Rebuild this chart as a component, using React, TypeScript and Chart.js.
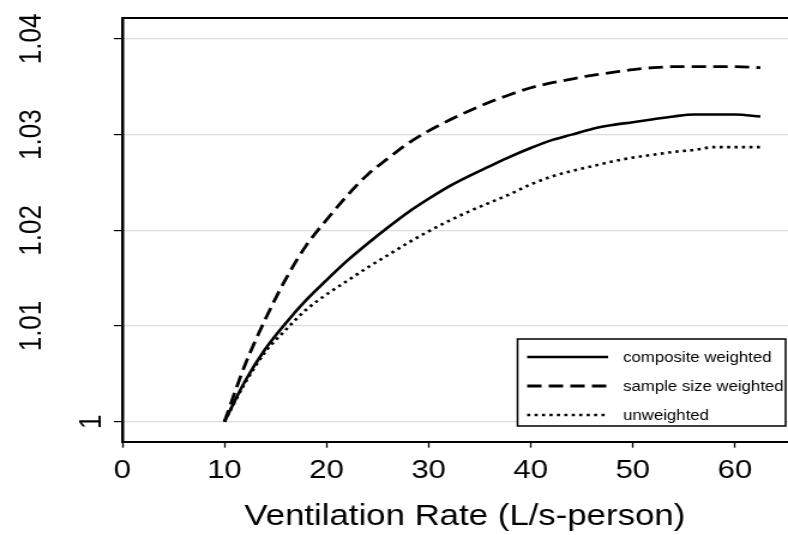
import { useEffect, useRef } from 'react';
import { Chart, registerables } from 'chart.js';

Chart.register(...registerables);

// ---- data ----
const ventilationRate = [10, 12, 14, 16, 18, 20, 22, 24, 26, 28, 30, 32, 34, 36, 38, 40, 42, 44, 46, 48, 50, 52, 54, 56, 58, 60, 62.5];
const compositeWeighted = [1.0, 1.0042, 1.0076, 1.0103, 1.0127, 1.0148, 1.0168, 1.0186, 1.0203, 1.0219, 1.0233, 1.0246, 1.0257, 1.0267, 1.0277, 1.0286, 1.0294, 1.03, 1.0306, 1.031, 1.0313, 1.0316, 1.0319, 1.0321, 1.0321, 1.0321, 1.0319];
const sampleSizeWeighted = [1.0, 1.0059, 1.0107, 1.0149, 1.0184, 1.0211, 1.0236, 1.0258, 1.0275, 1.0291, 1.0304, 1.0315, 1.0325, 1.0334, 1.0342, 1.0349, 1.0354, 1.0358, 1.0362, 1.0365, 1.0368, 1.037, 1.0371, 1.0371, 1.0371, 1.0371, 1.037];
const unweighted = [1.0, 1.004, 1.0073, 1.0096, 1.0117, 1.0133, 1.0147, 1.0161, 1.0174, 1.0187, 1.0199, 1.021, 1.022, 1.0229, 1.0238, 1.0248, 1.0256, 1.0262, 1.0267, 1.0272, 1.0276, 1.0279, 1.0282, 1.0284, 1.0287, 1.0287, 1.0287];
const seriesLabels = ['composite weighted', 'sample size weighted', 'unweighted'];
const xTicks = [0, 10, 20, 30, 40, 50, 60];
const yTicks = [1, 1.01, 1.02, 1.03, 1.04];
const xTitle = 'Ventilation Rate (L/s-person)';

const X_MIN = 0;
const X_MAX = 65.2;
const Y_MIN = 0.99791;
const Y_MAX = 1.04219;

// ---- layout ----
const W = 788;
const H = 535;
const STRETCH = 1.2;
const CW = Math.round(W / STRETCH);
const FONT = '"Liberation Sans", Arial, Helvetica, sans-serif';

const toPoints = (ys: number[]) => ventilationRate.map((x, i) => ({ x, y: ys[i] }));

const frameLegendPlugin = {
  id: 'frameLegend',
  afterDraw(chart: any) {
    const { ctx, chartArea } = chart;
    ctx.save();
    // top frame line
    ctx.strokeStyle = '#000';
    ctx.lineWidth = 2;
    ctx.beginPath();
    ctx.moveTo(chartArea.left, chartArea.top);
    ctx.lineTo(chartArea.right + 2, chartArea.top);
    ctx.stroke();

    // legend box
    const bx = 431.5, by = 339, bw = 655 - 431.5, bh = 426 - 339;
    ctx.fillStyle = '#fff';
    ctx.fillRect(bx, by, bw, bh);
    ctx.lineWidth = 1.5;
    ctx.strokeRect(bx, by, bw, bh);
    const rows = [357, 386, 415];
    chart.data.datasets.forEach((ds: any, i: number) => {
      const y = rows[i];
      ctx.setLineDash(ds.borderDash || []);
      ctx.lineWidth = ds.borderWidth;
      ctx.strokeStyle = ds.borderColor;
      ctx.beginPath();
      ctx.moveTo(439.5, y);
      ctx.lineTo(507, y);
      ctx.stroke();
      ctx.setLineDash([]);
      ctx.fillStyle = '#000';
      ctx.font = `14px ${FONT}`;
      ctx.textBaseline = 'middle';
      ctx.textAlign = 'left';
      ctx.fillText(ds.label, 519.5, y + 1);
    });
    ctx.restore();
  },
};

export default function App() {
  const ref = useRef<HTMLCanvasElement>(null);

  useEffect(() => {
    const canvas = ref.current;
    if (!canvas) return;
    const chart = new Chart(canvas, {
      type: 'line',
      data: {
        datasets: [
          {
            label: seriesLabels[0],
            data: toPoints(compositeWeighted),
            borderColor: '#000',
            borderWidth: 2.6,
            pointRadius: 0,
            fill: false,
            cubicInterpolationMode: 'monotone',
          },
          {
            label: seriesLabels[1],
            data: toPoints(sampleSizeWeighted),
            borderColor: '#000',
            borderWidth: 2.8,
            borderDash: [12, 6],
            pointRadius: 0,
            fill: false,
            cubicInterpolationMode: 'monotone',
          },
          {
            label: seriesLabels[2],
            data: toPoints(unweighted),
            borderColor: '#000',
            borderWidth: 2.6,
            borderDash: [2.6, 3.6],
            pointRadius: 0,
            fill: false,
            cubicInterpolationMode: 'monotone',
          },
        ],
      },
      options: {
        responsive: false,
        devicePixelRatio: 1,
        animation: false,
        events: [],
        layout: { padding: { top: 18, right: 0, bottom: 0, left: 0 } },
        plugins: {
          legend: { display: false },
          tooltip: { enabled: false },
        },
        scales: {
          x: {
            type: 'linear',
            min: X_MIN,
            max: X_MAX,
            afterFit: (s: any) => {
              s.height = H - 441.7;
              s.paddingLeft = 0;
              s.paddingRight = 0;
            },
            afterBuildTicks: (s: any) => {
              s.ticks = xTicks.map((v) => ({ value: v }));
            },
            ticks: {
              color: '#000',
              padding: 8,
              maxRotation: 0,
              autoSkip: false,
              font: { family: FONT, size: 26 },
              callback: (v: any) => String(v),
            },
            grid: {
              display: true,
              drawOnChartArea: false,
              drawTicks: true,
              tickLength: 6,
              tickColor: '#000',
              tickWidth: 1.3,
            },
            border: { display: true, color: '#000', width: 2 },
            title: {
              display: true,
              text: '  ' + xTitle,
              color: '#000',
              font: { family: FONT, size: 29 },
              padding: { top: 0, bottom: 1 },
            },
          },
          y: {
            type: 'linear',
            min: Y_MIN,
            max: Y_MAX,
            afterFit: (s: any) => {
              s.width = 102;
              s.paddingTop = 0;
              s.paddingBottom = 0;
            },
            afterBuildTicks: (s: any) => {
              s.ticks = yTicks.map((v) => ({ value: v }));
            },
            ticks: {
              color: '#000',
              padding: 43,
              minRotation: 90,
              maxRotation: 90,
              crossAlign: 'center',
              autoSkip: false,
              font: (c: any) => ({
                family: FONT,
                size: 26,
                lineHeight: c.tick && Math.abs(c.tick.value - 1) < 1e-9 ? 1.29 : 1.2,
              }),
              callback: (v: any) => {
                const n = Number(v);
                if (Math.abs(n - 1) < 1e-9) return ['', '', '', '1'];
                return String(Number(n.toFixed(2)));
              },
            },
            grid: {
              display: true,
              color: '#dcdcdc',
              lineWidth: 1.2,
              drawTicks: true,
              tickLength: 7,
              tickColor: '#000',
              tickWidth: 1.2,
            },
            border: { display: true, color: '#000', width: 2.5 },
          },
        },
      },
      plugins: [frameLegendPlugin],
    } as any);
    return () => {
      chart.destroy();
    };
  }, []);

  return (
    <div style={{ position: 'absolute', left: 0, top: 0, width: W, height: H, background: '#fff', overflow: 'hidden' }}>
      <canvas
        ref={ref}
        width={CW}
        height={H}
        style={{ display: 'block', width: `${W}px`, height: `${H}px` }}
      />
    </div>
  );
}
